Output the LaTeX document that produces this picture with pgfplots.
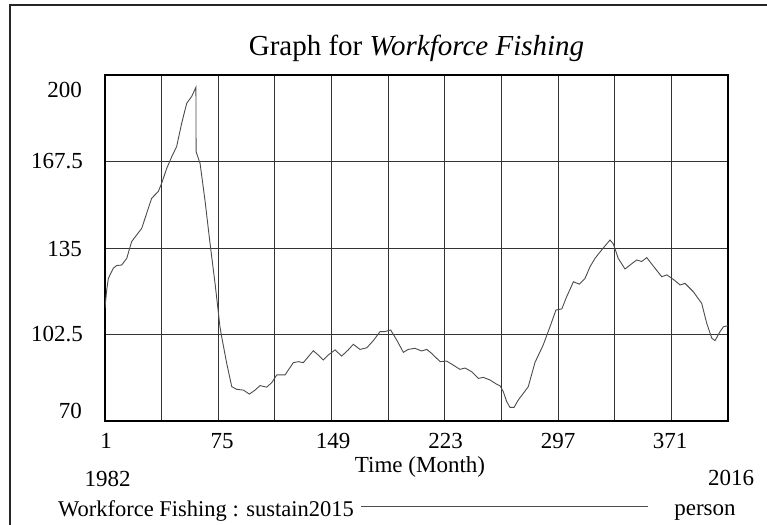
\documentclass[border=0pt]{standalone}
\usepackage{fontspec}
\setmainfont{Liberation Serif}
\usepackage{pgfplots}
\pgfplotsset{compat=1.18}
\begin{document}
\begin{tikzpicture}[x=1bp,y=1bp]
\path[use as bounding box] (0,0) rectangle (767,525);
\fill[white] (0,0) rectangle (767,525);
% outer frame
\draw[line width=2bp, black!85] (10,0) -- (10,520) -- (767,520);
\begin{axis}[
  at={(105bp,104bp)}, anchor=south west,
  scale only axis, width=623bp, height=346bp,
  xmin=1, xmax=408, ymin=70, ymax=200,
  xtick={38,75,112,149,186,223,260,297,334,371},
  ytick={102.5,135,167.5},
  xticklabels={}, yticklabels={},
  major tick length=0pt,
  grid=major,
  major grid style={black!80, line width=0.9bp},
  axis line style={line width=2bp, black},
  clip=true,
]
\addplot[black!70, line width=0.9bp, no marks] coordinates {
(1,112.5) (2.1,119.2) (3.2,123.6) (6.4,127.4) (8.6,128.4) (11.9,128.6)
(15.2,131.1) (18.4,137.4) (21.7,139.9) (25.0,142.4) (28.2,148.0) (31.5,153.7)
(35.8,156.2) (38.0,159.3) (41.3,164.9) (44.6,169.3) (47.8,173.1) (51.1,181.9)
(54.4,189.4) (57.6,191.9) (60.4,195.4) (60.5,171.2) (63.1,166.8) (66.3,153.0)
(69.6,136.8) (72.9,121.7) (76.1,105.4) (77.2,101.7) (80.5,91.7) (83.8,82.9)
(87.0,81.9) (91.4,81.6) (95.3,80.1) (99.0,81.6) (102.3,83.3) (106.6,82.7)
(109.9,84.4) (113.2,87.3) (118.6,87.3) (124.0,91.9) (127.3,92.3) (130.5,91.9)
(137.1,96.4) (140.3,94.8) (143.6,92.9) (146.9,94.8) (151.3,96.7) (155.6,94.4)
(159.9,96.7) (163.2,98.8) (167.6,96.9) (172.0,97.5) (176.3,100.2) (180.7,103.6)
(183.9,103.6) (187.6,104.2) (191.6,100.4) (195.9,95.8) (199.1,96.9) (203.5,97.3)
(207.9,96.3) (211.2,96.9) (214.4,95.4) (219.9,92.3) (224.2,92.5) (228.5,91.0)
(232.9,89.4) (236.2,89.9) (240.6,88.5) (244.9,86.0) (248.1,86.4) (252.5,85.4)
(256.9,83.8) (259.1,83.2) (261.2,81.0) (263.4,77.3) (265.6,75.1) (268.2,75.1)
(271.0,77.9) (274.3,80.4) (277.5,82.9) (281.9,92.0) (287.3,98.6) (291.7,105.4)
(295.6,111.7) (299.4,112.1) (302.6,116.7) (307.0,122.3) (310.9,121.4) (314.6,123.6)
(317.9,128.0) (321.1,131.1) (325.5,134.3) (330.9,138.0) (333.1,136.5) (336.3,131.1)
(340.7,127.1) (344.0,128.6) (348.4,130.5) (351.6,129.9) (354.9,131.4) (359.2,128.2)
(364.7,124.2) (368.0,124.9) (372.3,123.2) (376.7,121.1) (379.9,121.7) (385.3,118.6)
(390.8,114.2) (394.1,106.7) (397.4,101.1) (399.5,100.2) (402.8,103.6) (405.0,105.4)
(408,105.8)
};
\end{axis}
% title
\node[anchor=base, font=\fontsize{29bp}{33bp}\selectfont, inner sep=0pt] at (416.5,469) {Graph for \textit{Workforce Fishing}};
% y tick labels
\begin{scope}[every node/.style={anchor=base east, inner sep=0pt, font=\fontsize{23bp}{27bp}\selectfont}]
\node at (82,427) {200};
\node at (83,356) {167.5};
\node at (82,268) {135};
\node at (83,183) {102.5};
\node at (82,106) {70};
\end{scope}
% x tick labels and other texts
\begin{scope}[every node/.style={anchor=base, inner sep=0pt, font=\fontsize{23bp}{27bp}\selectfont}]
\node at (106,76) {1};
\node at (222,76) {75};
\node at (333,76) {149};
\node at (445.6,76) {223};
\node at (558,76) {297};
\node at (670,76) {371};
\node at (420,52) {Time (Month)};
\node at (107.5,38) {1982};
\node at (731,39) {2016};
\node[anchor=base west, font=\fontsize{22.5bp}{27bp}\selectfont] at (58,8.5) {Workforce Fishing : sustain2015};
\node at (705,9) {person};
\end{scope}
\draw[black!70, line width=0.9bp] (361,19) -- (648,19);
\end{tikzpicture}
\end{document}
